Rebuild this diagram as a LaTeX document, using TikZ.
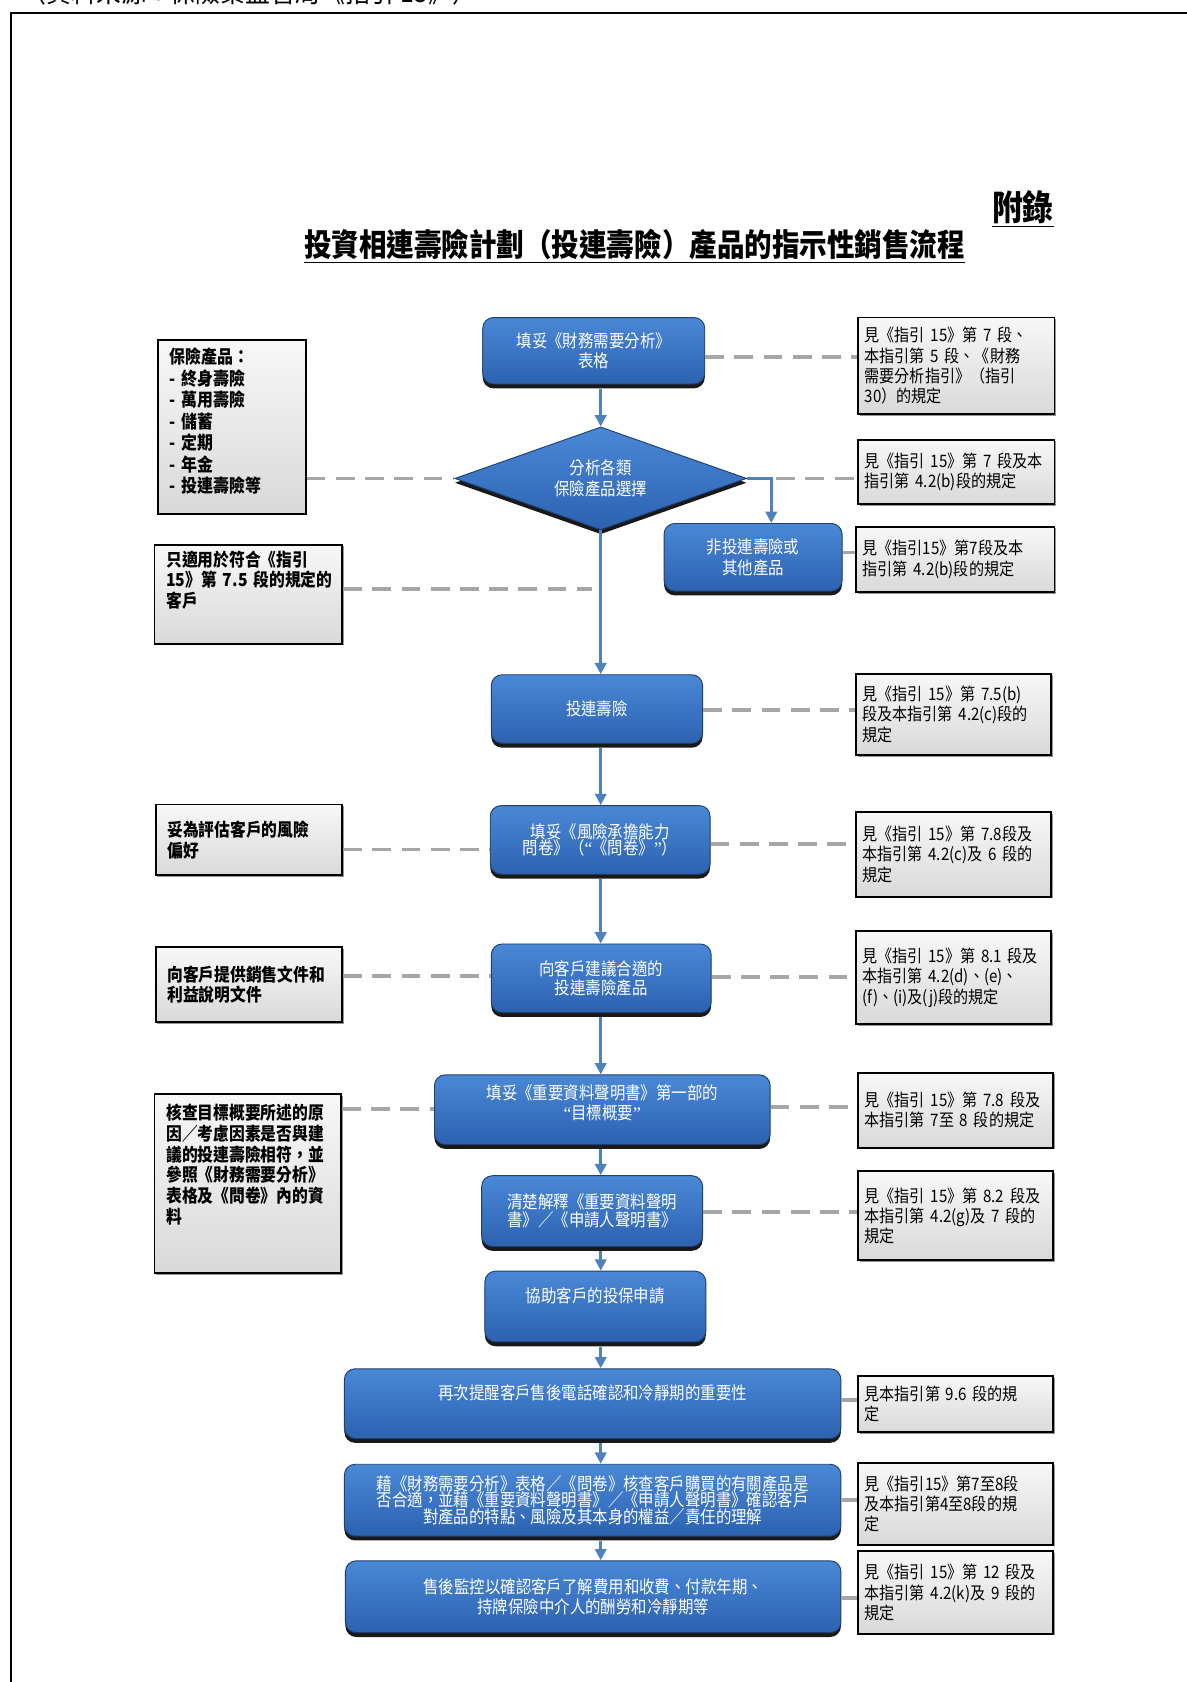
\documentclass[tikz,border=0pt]{standalone}
\usepackage{fontspec}
\setmainfont[FakeStretch=0.88]{Noto Sans CJK TC}
\newfontfamily\quotefont{Liberation Serif}
\newcommand{\oq}{{\quotefont “}}
\newcommand{\cq}{{\quotefont ”}}
\usetikzlibrary{shapes.geometric,shadows,arrows.meta}
\definecolor{stepTop}{HTML}{4A88D6}
\definecolor{stepBot}{HTML}{2C62B0}
\definecolor{stepLine}{HTML}{1F3F73}
\definecolor{flowBlue}{HTML}{4F81BD}
\definecolor{linkGrey}{HTML}{A6A6A6}

\begin{document}
\begin{tikzpicture}[x=0.02cm, y=-0.02cm,
    bluefill/.style={draw=stepLine, line width=0.5pt, top color=stepTop, bottom color=stepBot,
        text=white, align=center, inner sep=0pt,
        font=\fontsize{9.3}{10.5}\selectfont,
        drop shadow={shadow xshift=0pt, shadow yshift=-2.3pt, opacity=0.9, fill=black}},
    stepbox/.style 2 args={bluefill, rectangle, rounded corners=0.2cm,
        minimum width=#1cm, minimum height=#2cm},
    choice/.style={bluefill, diamond, aspect=2.9, minimum width=5.44cm, minimum height=1.92cm},
    infobox/.style 2 args={rectangle, draw=black, line width=1pt,
        top color=gray!6, bottom color=gray!30, align=left,
        inner xsep=0.12cm, inner ysep=0.1cm,
        minimum width=#1cm, text width=#1cm-0.24cm, minimum height=#2cm,
        font=\fontsize{9.1}{10.8}\selectfont,
        drop shadow={shadow xshift=0.8pt, shadow yshift=-0.8pt, opacity=0.6, fill=black!70}},
    notebox/.style 2 args={infobox={#1}{#2}, inner xsep=0.22cm, text width=#1cm-0.44cm,
        font=\bfseries\fontsize{9.5}{11}\selectfont},
    flow/.style={draw=flowBlue, line width=1.6pt, -{Triangle[length=6pt,width=6pt]}},
    link/.style={draw=linkGrey, line width=2pt, dash pattern=on 10pt off 5.5pt}]
    \useasboundingbox (0,0) rectangle (1105.7,1568);

    % page frame and headings
    \draw[line width=1.1pt] (10,1590) -- (10,12) -- (1120,12);
    \node[anchor=base west, font=\fontsize{15}{16}\selectfont] (src) at (14,2) {（資料來源：保險業監管局《指引 15》）};
    \node[font=\bfseries\fontsize{18.5}{20}\selectfont] (appx) at (953.5,195) {\underline{附錄}};
    \node[font=\bfseries\fontsize{16.6}{18}\selectfont] (title) at (591.5,230) {\underline{投資相連壽險計劃（投連壽險）產品的指示性銷售流程}};

    % main column
    \coordinate (col) at (560,0);
    \node[stepbox={4.14}{1.24}] (b1) at (553.5,327) {填妥《財務需要分析》\\表格};
    \node[choice] (d) at (560,446) {分析各類\\[0.8pt]保險產品選擇};
    \node[stepbox={3.32}{1.26}] (b2) at (702,519.5) {非投連壽險或\\[0.8pt]其他產品};
    \node[stepbox={3.94}{1.28}] (b3) at (556.5,661) {投連壽險};
    \node[stepbox={4.10}{1.28}] (b4) at (559.5,783) {填妥《風險承擔能力\\[-1.8pt]問卷》（\oq《問卷》\cq）};
    \node[stepbox={4.10}{1.28}] (b5) at (560.5,912) {向客戶建議合適的\\投連壽險產品};
    \node[stepbox={6.26}{1.30}, text depth=0.28cm] (b6) at (561.5,1034.5) {填妥《重要資料聲明書》第一部的\\\oq 目標概要\cq};
    \node[stepbox={4.12}{1.32}] (b7) at (552,1129) {清楚解釋《重要資料聲明\\[-0.7pt]書》／《申請人聲明書》};
    \node[stepbox={4.12}{1.32}, text depth=0.42cm] (b8) at (555,1218) {協助客戶的投保申請};
    \node[stepbox={9.26}{1.30}, text depth=0.42cm] (b9) at (552.5,1308.5) {再次提醒客戶售後電話確認和冷靜期的重要性};
    \node[stepbox={9.26}{1.34}] (b10) at (552.5,1398.5) {藉《財務需要分析》表格／《問卷》核查客戶購買的有關產品是\\[-1.7pt]否合適，並藉《重要資料聲明書》／《申請人聲明書》確認客戶\\[-1.7pt]對產品的特點、風險及其本身的權益／責任的理解};
    \node[stepbox={9.24}{1.34}] (b11) at (553,1488.5) {售後監控以確認客戶了解費用和收費、付款年期、\\持牌保險中介人的酬勞和冷靜期等};

    % left notes
    \node[notebox={2.76}{3.24}, font=\bfseries\fontsize{9.6}{11.4}\selectfont, text depth=2.65cm] (l1) at (216,398) {保險產品：\\- 終身壽險\\- 萬用壽險\\- 儲蓄\\- 定期\\- 年金\\- 投連壽險等};
    \node[notebox={3.50}{1.84}, text depth=1.34cm] (l2) at (231.5,554) {只適用於符合《指引\\15》第~7.5~段的規定的\\客戶};
    \node[notebox={3.48}{1.32}] (l3) at (232,783) {妥為評估客戶的風險\\偏好};
    \node[notebox={3.48}{1.40}] (l4) at (232,918) {向客戶提供銷售文件和\\利益說明文件};
    \node[notebox={3.48}{3.34}, inner ysep=0.18cm, text depth=2.68cm] (l5) at (231,1103.5) {核查目標概要所述的原\\因／考慮因素是否與建\\議的投連壽險相符，並\\參照《財務需要分析》\\表格及《問卷》內的資\\料};

    % right references
    \node[infobox={3.66}{1.80}] (r1) at (891.5,341) {見《指引~15》第~7~段、\\本指引第~5~段、《財務\\需要分析指引》（指引\\30）的規定};
    \node[infobox={3.66}{1.20}] (r2) at (891.5,440) {見《指引~15》第~7~段及本\\指引第~4.2(b)段的規定};
    \node[infobox={3.70}{1.22}] (r3) at (890.5,521.5) {見《指引15》第7段及本\\指引第~4.2(b)段的規定};
    \node[infobox={3.64}{1.52}] (r4) at (889,666) {見《指引~15》第~7.5(b)\\段及本指引第~4.2(c)段的\\規定};
    \node[infobox={3.64}{1.58}] (r5) at (889,796.5) {見《指引~15》第~7.8段及\\本指引第~4.2(c)及~6~段的\\規定};
    \node[infobox={3.64}{1.74}] (r6) at (889,911.5) {見《指引~15》第~8.1~段及\\本指引第~4.2(d)、(e)、\\(f)、(i)及(j)段的規定};
    \node[infobox={3.64}{1.40}] (r7) at (891,1035) {見《指引~15》第~7.8~段及\\本指引第~7至~8~段的規定};
    \node[infobox={3.64}{1.66}] (r8) at (891,1133.5) {見《指引~15》第~8.2~段及\\本指引第~4.2(g)及~7~段的\\規定};
    \node[infobox={3.64}{1.04}] (r9) at (891,1309) {見本指引第~9.6~段的規\\定};
    \node[infobox={3.64}{1.52}] (r10) at (891,1402) {見《指引15》第7至8段\\及本指引第4至8段的規\\定};
    \node[infobox={3.64}{1.54}] (r11) at (891,1484.5) {見《指引~15》第~12~段及\\本指引第~4.2(k)及~9~段的\\規定};

    % dashed links
    \coordinate (tk) at (552,549);
    \draw[link] (b1.east |- 0,333) -- (r1.west |- 0,333);
    \draw[link] (l1.east |- d.west) -- (d.west);
    \draw[link] (d.east) -- (r2.west |- d.east);
    \draw[link] (b2.east |- 0,515) -- (r3.west |- 0,515);
    \draw[link] (l2.east |- tk) -- (tk);
    \draw[link] (b3.east |- 0,662) -- (r4.west |- 0,662);
    \draw[link] (l3.east |- 0,792) -- (b4.west |- 0,792);
    \draw[link] (b4.east |- 0,787) -- (r5.west |- 0,787);
    \draw[link] (l4.east |- 0,910) -- (b5.west |- 0,910);
    \draw[link] (b5.east |- 0,911) -- (r6.west |- 0,911);
    \draw[link] (l5.east |- 0,1034) -- (b6.west |- 0,1034);
    \draw[link] (b6.east |- 0,1032) -- (r7.west |- 0,1032);
    \draw[link] (b7.east |- 0,1130) -- (r8.west |- 0,1130);
    \draw[link] (b9.east |- 0,1305) -- (r9.west |- 0,1305);
    \draw[link] (b10.east |- 0,1398) -- (r10.west |- 0,1398);
    \draw[link] (b11.east |- 0,1490) -- (r11.west |- 0,1490);

    % flow arrows
    \draw[flow] (b1.south -| col) ++(0,4) -- (d.north);
    \draw[flow] (d.south) -- (d.south |- b3.north);
    \draw[flow] (d.east) -| ([xshift=0.34cm]b2.north);
    \draw[flow] (b3.south -| col) ++(0,4) -- (b4.north -| col);
    \draw[flow] (b4.south -| col) ++(0,4) -- (b5.north -| col);
    \draw[flow] (b5.south -| col) ++(0,4) -- (b6.north -| col);
    \draw[flow] (b6.south -| col) ++(0,4) -- (b7.north -| col);
    \draw[flow] (b7.south -| col) ++(0,4) -- (b8.north -| col);
    \draw[flow] (b8.south -| col) ++(0,4) -- (b9.north -| col);
    \draw[flow] (b9.south -| col) ++(0,4) -- (b10.north -| col);
    \draw[flow] (b10.south -| col) ++(0,4) -- (b11.north -| col);
\end{tikzpicture}
\end{document}
